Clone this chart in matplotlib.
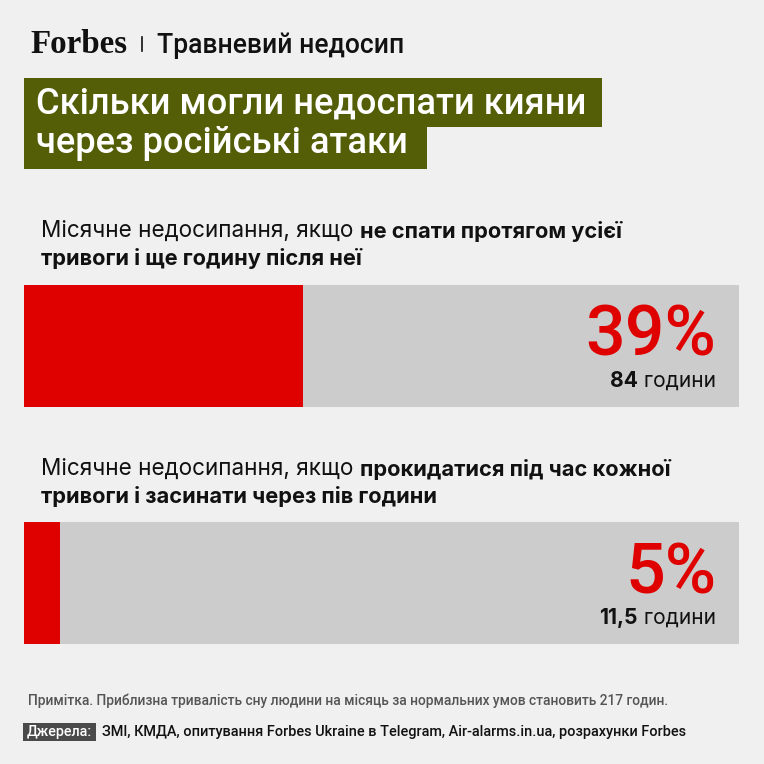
import matplotlib
matplotlib.use("Agg")
import matplotlib.pyplot as plt
from matplotlib.patches import Rectangle

# ---------------- data ----------------
brand = "Forbes"
section = "Травневий недосип"
title_lines = ["Скільки могли недоспати кияни", "через російські атаки"]
sub_normal = ["Місячне недосипання, якщо ", "Місячне недосипання, якщо "]
sub_bold_1 = ["не спати протягом усієї", "прокидатися під час кожної"]
sub_bold_2 = ["тривоги і ще годину після неї", "тривоги і засинати через пів години"]
values = [39, 5]              # percent of normal monthly sleep
hours = ["84", "11,5"]
hours_unit = " години"
note = "Примітка. Приблизна тривалість сну людини на місяць за нормальних умов становить 217 годин."
src_label = "Джерела:"
src_text = "ЗМІ, КМДА, опитування Forbes Ukraine в Telegram, Air-alarms.in.ua, розрахунки Forbes"

# ---------------- style ----------------
BG = "#f0f0f0"
RED = "#df0000"
GREY = "#cccccc"
OLIVE = "#545e07"
FONT = "Roboto"
FONT2 = "Inter"

W = H = 764
fig = plt.figure(figsize=(W / 100, H / 100), dpi=100, facecolor=BG)

def px(p):  # pixel font size -> points
    return p * 0.72

bar_top = [285, 522]
bar_h = 122
bar_left, bar_w = 24, 715

# bars (drawn through their own axes, 0..100 %)
for i in range(2):
    bax = fig.add_axes([bar_left / W, (H - bar_top[i] - bar_h) / H, bar_w / W, bar_h / H])
    bax.set_xlim(0, 100)
    bax.set_ylim(-0.5, 0.5)
    bax.axis("off")
    bax.barh([0], [100], height=1, color=GREY, lw=0)
    bax.barh([0], [values[i]], height=1, color=RED, lw=0)

# overlay for texts
ax = fig.add_axes([0, 0, 1, 1])
ax.set_zorder(10)
ax.patch.set_visible(False)
ax.set_xlim(0, W)
ax.set_ylim(H, 0)
ax.axis("off")

# header
ax.text(30, 53, brand, family="Liberation Serif", weight="bold", fontsize=px(33),
        color="#111111", va="baseline", ha="left")
ax.plot([142, 142], [37, 51], color="#111111", lw=1.2)
ax.text(157, 53, section, family=FONT, weight="medium", fontsize=px(26.5),
        color="#111111", va="baseline", ha="left")

# title boxes
ax.add_patch(Rectangle((24, 78), 602 - 24, 127 - 78, color=OLIVE, lw=0))
ax.add_patch(Rectangle((24, 127), 427 - 24, 169 - 127, color=OLIVE, lw=0))
ax.text(36, 114, title_lines[0], family=FONT, weight="medium", fontsize=px(36.2),
        color="white", va="baseline", ha="left")
ax.text(36, 153, title_lines[1], family=FONT, weight="medium", fontsize=px(36.2),
        color="white", va="baseline", ha="left")

sub_y = [237, 475]
for i in range(2):
    t1 = ax.text(41, sub_y[i], sub_normal[i], family=FONT2, weight="normal",
                 fontsize=px(22.5), color="#111111", va="baseline", ha="left")
    ax.annotate(sub_bold_1[i], xy=(1, 0), xycoords=t1, va="bottom", ha="left",
                family=FONT2, weight="bold", fontsize=px(21.8), color="#111111")
    ax.text(41, sub_y[i] + 28, sub_bold_2[i], family=FONT2, weight="bold",
            fontsize=px(21.8), color="#111111", va="baseline", ha="left")

    ax.text(716, bar_top[i] + 71, f"{values[i]}%", family=FONT, weight="medium",
            fontsize=px(70), color=RED, va="baseline", ha="right")
    tu = ax.text(716, bar_top[i] + 102, hours_unit, family=FONT2, weight="normal",
                 fontsize=px(21), color="#111111", va="baseline", ha="right")
    ax.annotate(hours[i], xy=(0, 0), xycoords=tu, va="bottom", ha="right",
                family=FONT2, weight="bold", fontsize=px(21), color="#111111")

# footer
ax.text(28, 705, note, family=FONT, weight="medium", fontsize=px(13.7),
        color="#555555", va="baseline", ha="left")
ax.add_patch(Rectangle((23, 723), 96 - 23, 741 - 723, color="#4a4a4a", lw=0))
ax.text(59.5, 736, src_label, family=FONT, weight="medium", fontsize=px(14.3),
        color="white", va="baseline", ha="center")
ax.text(102, 736, src_text, family=FONT, weight="medium", fontsize=px(14.5),
        color="#111111", va="baseline", ha="left")

fig.savefig("out.png", dpi=100, facecolor=BG)
